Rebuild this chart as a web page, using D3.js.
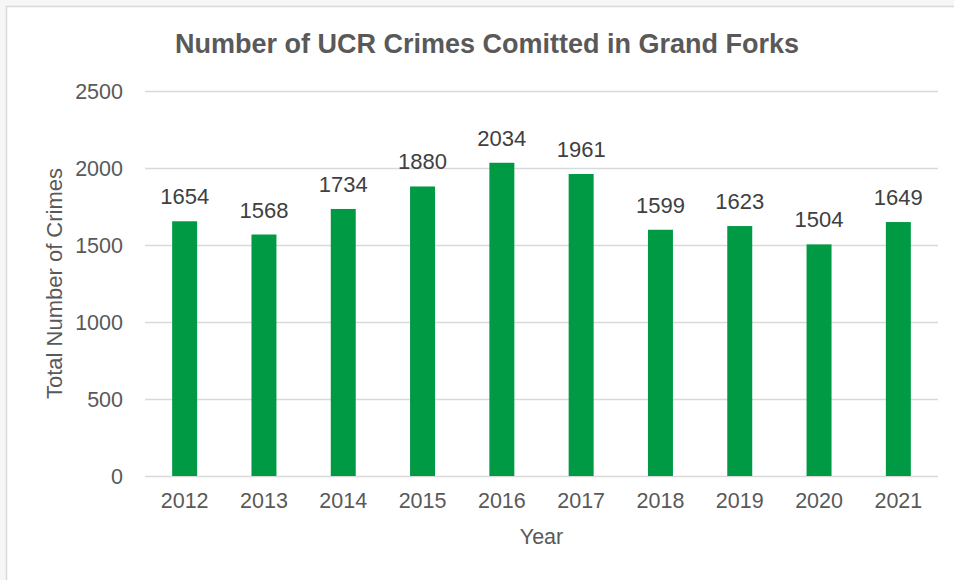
<!DOCTYPE html>
<head>
    <meta charset="utf-8">
    <script src="https://d3js.org/d3.v7.min.js"></script>
    <style>
        *{
            margin:0;
            padding:0;
        }
        body{
            background: #f6f6f6;
            font-family: 'Liberation Sans', Arial, sans-serif;
        }
        svg{
            display: block;
        }
    </style>
</head>
<body>
<svg id="viz"></svg>
<script>

    //data
    let years = ["2012", "2013", "2014", "2015", "2016", "2017", "2018", "2019", "2020", "2021"];
    let crimes = [1654, 1568, 1734, 1880, 2034, 1961, 1599, 1623, 1504, 1649];
    let yTicks = [0, 500, 1000, 1500, 2000, 2500];

    let width = 954,
        height = 580;

    let svg = d3.select("#viz")
        .attr("width", width)
        .attr("height", height);

    //chart frame
    svg.append("rect")
        .attr("x", 6.5)
        .attr("y", 6.5)
        .attr("width", width + 10)
        .attr("height", height + 10)
        .attr("fill", "#fff")
        .attr("stroke", "#d9d9d9")
        .attr("stroke-width", 1.5);

    //plot area
    let plotLeft = 145, plotRight = 938, plotTop = 91, plotBottom = 476;

    let x = d3.scaleBand()
        .domain(years)
        .range([plotLeft, plotRight])
        .paddingInner(0.685)
        .paddingOuter(0.3425);

    let y = d3.scaleLinear()
        .domain([0, 2500])
        .range([plotBottom, plotTop]);

    //gridlines
    svg.append("g")
        .selectAll("line")
        .data(yTicks)
        .enter()
        .append("line")
        .attr("x1", plotLeft)
        .attr("x2", plotRight)
        .attr("y1", d => Math.round(y(d)) + 0.5)
        .attr("y2", d => Math.round(y(d)) + 0.5)
        .attr("stroke", "#d9d9d9")
        .attr("stroke-width", 1.5);

    //y axis labels
    svg.append("g")
        .selectAll("text")
        .data(yTicks)
        .enter()
        .append("text")
        .attr("x", 123)
        .attr("y", d => y(d))
        .attr("dy", "0.36em")
        .attr("text-anchor", "end")
        .attr("fill", "#595959")
        .style("font-size", "21.5px")
        .text(d => d);

    //bars
    svg.append("g")
        .selectAll("rect")
        .data(crimes)
        .enter()
        .append("rect")
        .attr("x", (d, i) => x(years[i]))
        .attr("y", d => y(d))
        .attr("width", x.bandwidth())
        .attr("height", d => plotBottom - y(d))
        .attr("fill", "#009a44");

    //bar values
    svg.append("g")
        .selectAll("text")
        .data(crimes)
        .enter()
        .append("text")
        .attr("x", (d, i) => x(years[i]) + x.bandwidth() / 2)
        .attr("y", d => y(d) - 17)
        .attr("text-anchor", "middle")
        .attr("fill", "#404040")
        .style("font-size", "22px")
        .text(d => d);

    //x axis labels
    svg.append("g")
        .selectAll("text")
        .data(years)
        .enter()
        .append("text")
        .attr("x", d => x(d) + x.bandwidth() / 2)
        .attr("y", 508)
        .attr("text-anchor", "middle")
        .attr("fill", "#595959")
        .style("font-size", "21.5px")
        .text(d => d);

    //axis titles
    svg.append("text")
        .attr("x", (plotLeft + plotRight) / 2)
        .attr("y", 544)
        .attr("text-anchor", "middle")
        .attr("fill", "#595959")
        .style("font-size", "21.5px")
        .text("Year");

    svg.append("text")
        .attr("transform", "translate(62," + (plotTop + plotBottom) / 2 + ") rotate(-90)")
        .attr("text-anchor", "middle")
        .attr("fill", "#595959")
        .style("font-size", "22px")
        .text("Total Number of Crimes");

    //title
    svg.append("text")
        .attr("x", 487)
        .attr("y", 53)
        .attr("text-anchor", "middle")
        .attr("fill", "#595959")
        .style("font-size", "27px")
        .style("font-weight", "bold")
        .text("Number of UCR Crimes Comitted in Grand Forks");

</script>
</body>
